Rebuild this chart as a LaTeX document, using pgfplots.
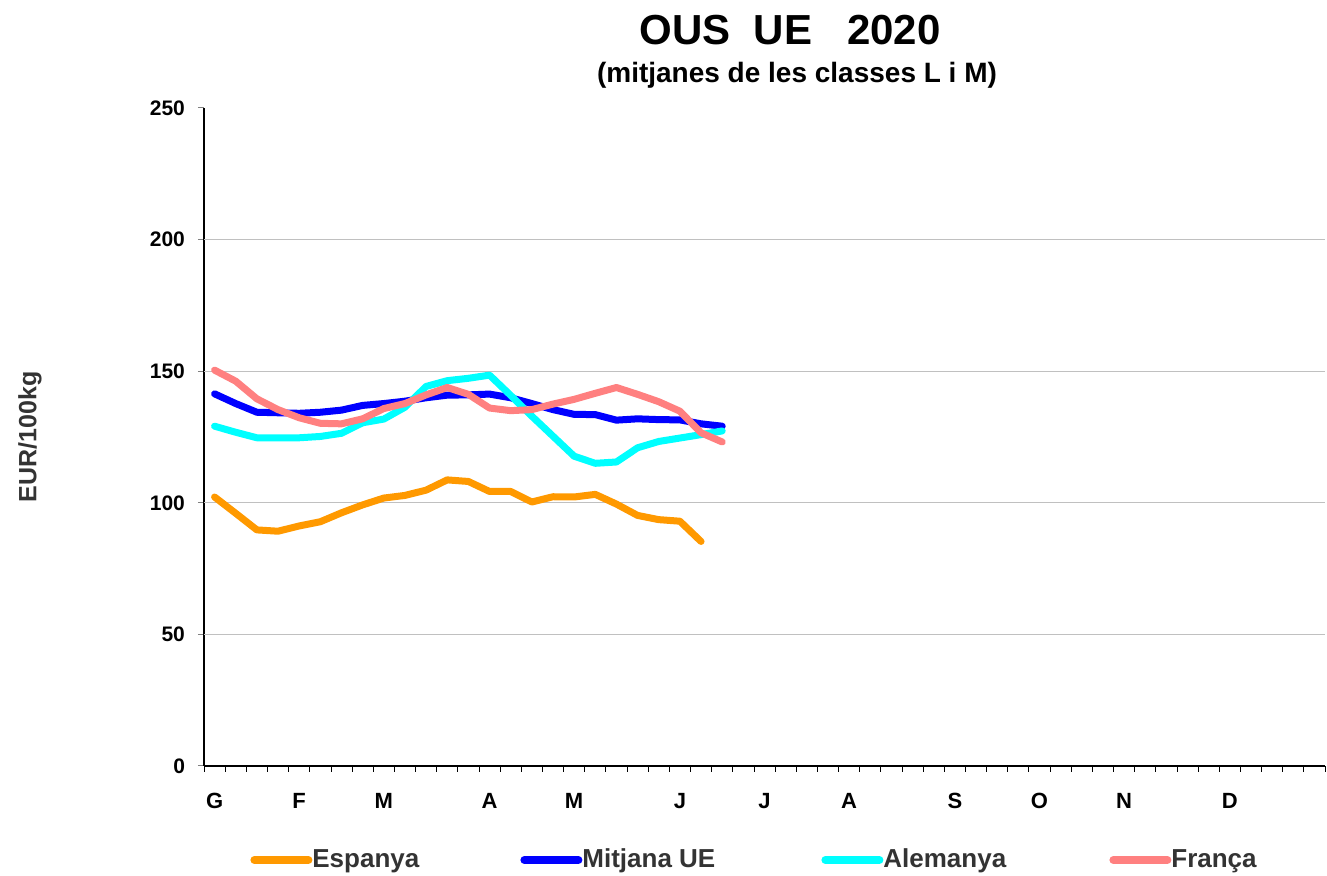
\documentclass[border=0pt]{standalone}
\usepackage{fontspec}
\setmainfont{Liberation Sans}
\usepackage{pgfplots}
\pgfplotsset{compat=1.18}
\definecolor{espanya}{RGB}{255,153,0}
\definecolor{mitjana}{RGB}{0,0,255}
\definecolor{alemanya}{RGB}{0,255,255}
\definecolor{franca}{RGB}{255,128,128}
\definecolor{txt}{RGB}{51,51,51}
\definecolor{gridgray}{RGB}{192,192,192}

\begin{document}
\begin{tikzpicture}
\useasboundingbox (0pt,0pt) rectangle (663.5pt,438pt);
\begin{axis}[
  at={(102pt,55pt)}, anchor=south west,
  width=560.5pt, height=329pt, scale only axis,
  xmin=0.5, xmax=53.5, ymin=0, ymax=250,
  axis x line*=bottom, axis y line*=left,
  axis line style={-, line width=0.6pt, black},
  ytick={0,50,...,250},
  extra y ticks={50,100,150,200},
  extra y tick labels={},
  extra y tick style={grid=major, major tick length=0pt},
  grid style={gridgray, line width=0.5pt},
  ytick style={gray, line width=0.5pt},
  major tick length=3pt,
  tick align=outside,
  xtick={1,5,9,14,18,23,27,31,36,40,44,49},
  xticklabels={G,F,M,A,M,J,J,A,S,O,N,D},
  x tick style={draw=none},
  minor xtick={0.5,1.5,...,53.5},
  minor x tick style={draw=black, line width=0.4pt},
  minor tick length=3pt,
  xticklabel style={font=\fontsize{11}{13}\selectfont\bfseries, yshift=-7pt},
  yticklabel style={font=\fontsize{10.5}{12}\selectfont\bfseries, xshift=-3pt},
  /pgf/number format/assume math mode=true,
  ylabel={EUR/100kg},
  every axis y label/.style={at={(-87pt,0.5)}, rotate=90, anchor=center,
    font=\fontsize{12.5}{14}\selectfont\bfseries, text=txt},
  legend columns=4,
  legend style={at={(23pt,-47pt)}, anchor=west, draw=none, fill=none,
    inner sep=0pt, column sep=0pt,
    font=\fontsize{13}{15}\selectfont\bfseries, text=txt,
    nodes={inner xsep=0pt, inner ysep=0pt}},
  legend image code/.code={\draw[#1, line width=4pt, line cap=round] (0pt,0pt) -- (27pt,0pt);},
  clip=false,
]
\addplot[espanya, line width=3.5pt, line join=round, line cap=round] table {
x y
1 102.2
2 96.0
3 89.7
4 89.2
5 91.2
6 92.8
7 96.2
8 99.2
9 101.8
10 102.8
11 104.8
12 108.7
13 108.1
14 104.3
15 104.3
16 100.3
17 102.3
18 102.2
19 103.2
20 99.5
21 95.2
22 93.6
23 93.0
24 85.3
};
\addlegendentry{\makebox[104pt][l]{Espanya}}
\addplot[mitjana, line width=3.5pt, line join=round, line cap=round] table {
x y
1 141.4
2 137.7
3 134.4
4 134.2
5 134.0
6 134.4
7 135.2
8 137.0
9 137.7
10 138.6
11 139.9
12 140.9
13 141.0
14 141.3
15 139.9
16 137.7
17 135.4
18 133.6
19 133.5
20 131.4
21 131.9
22 131.6
23 131.5
24 130.0
25 129.1
};
\addlegendentry{\makebox[119.5pt][l]{Mitjana UE}}
\addplot[alemanya, line width=3.5pt, line join=round, line cap=round] table {
x y
1 129.1
2 126.8
3 124.7
4 124.7
5 124.7
6 125.2
7 126.4
8 130.4
9 131.8
10 136.3
11 144.2
12 146.4
13 147.3
14 148.5
15 140.8
16 132.9
17 125.3
18 117.7
19 115.0
20 115.5
21 120.9
22 123.3
23 124.6
24 125.9
25 127.3
};
\addlegendentry{\makebox[113pt][l]{Alemanya}}
\addplot[franca, line width=3.5pt, line join=round, line cap=round] table {
x y
1 150.4
2 146.2
3 139.5
4 135.4
5 132.3
6 130.2
7 130.0
8 131.9
9 135.8
10 137.7
11 141.0
12 143.8
13 141.2
14 136.0
15 135.0
16 135.4
17 137.5
18 139.3
19 141.6
20 143.8
21 141.2
22 138.4
23 134.8
24 126.6
25 123.1
};
\addlegendentry{Fran\c{c}a}
\end{axis}
\node[font=\fontsize{21}{25}\selectfont\bfseries] at (395pt,423pt) {OUS\ \ UE\ \ \ 2020};
\node[font=\fontsize{14}{16}\selectfont\bfseries] at (398.5pt,400.5pt) {(mitjanes de les classes L i M)};
\end{tikzpicture}
\end{document}
